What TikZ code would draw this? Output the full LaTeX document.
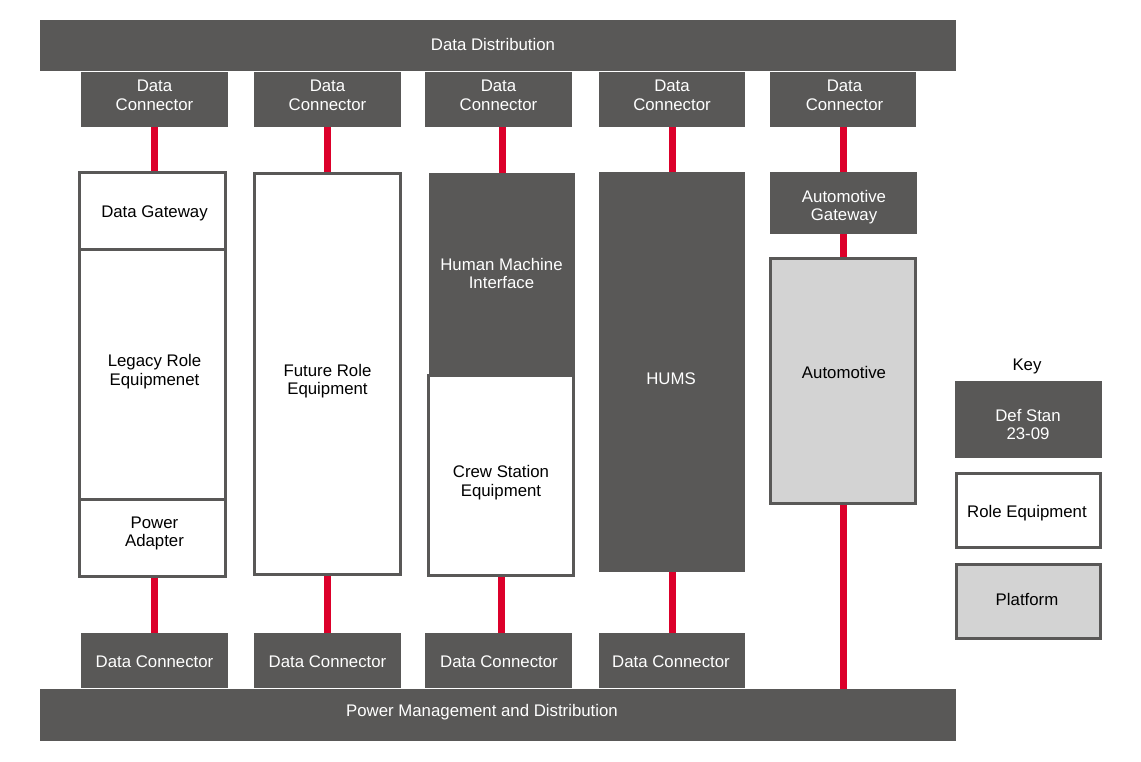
\documentclass[tikz,border=0pt]{standalone}
\usepackage{fontspec}
\setmainfont{Liberation Sans}
\usetikzlibrary{backgrounds}
\definecolor{dg}{RGB}{89,88,87}
\definecolor{lg}{RGB}{211,211,211}
\definecolor{rl}{RGB}{220,0,42}
\tikzset{
  base/.style={inner sep=0pt, outer sep=0pt, align=center, font=\fontsize{16.8}{18.5}\selectfont},
  dark/.style={base, fill=dg, draw=none},
  wbox/.style={base, fill=white, draw=dg, line width=3pt},
  lbox/.style={base, fill=lg, draw=dg, line width=3pt},
  wt/.style={base, text=white},
  bt/.style={base, text=black},
  redline/.style={draw=rl, line width=7pt},
  sz/.style 2 args={minimum width=#1pt, minimum height=#2pt}
}
\begin{document}
\begin{tikzpicture}[x=1pt,y=-1pt]
\useasboundingbox (0,0) rectangle (1141,761);
% buses
\node[dark, sz={916}{51}] (dd) at (498,45.5) {};
\node[wt] (ddt) at (493,44.5) {Data Distribution};
\node[dark, sz={916}{52}] (pwr) at (498,715) {};
\node[wt] (pwrt) at (482,712) {Power Management and Distribution};
% top data connectors
\node[dark, sz={147}{55}] (dc1) at (154.5,99.5) {};
\node[dark, sz={147}{55}] (dc2) at (327.5,99.5) {};
\node[dark, sz={147}{55}] (dc3) at (498.5,99.5) {};
\node[dark, sz={146}{55}] (dc4) at (672,99.5) {};
\node[dark, sz={146}{55}] (dc5) at (843,99.5) {};
\foreach \n/\x in {1/154.5,2/327.5,3/498.5,4/672,5/844.5}
  \node[wt] (dct\n) at (\x,95.5) {Data\\Connector};
% bottom data connectors
\node[dark, sz={147}{55}] (bc1) at (154.5,660.5) {};
\node[dark, sz={147}{55}] (bc2) at (327.5,660.5) {};
\node[dark, sz={147}{55}] (bc3) at (498.5,660.5) {};
\node[dark, sz={146}{55}] (bc4) at (672,660.5) {};
\foreach \n/\x in {1/154.5,2/327.5,3/499,4/671}
  \node[wt] (bct\n) at (\x,661.5) {Data Connector};
% column 1
\node[wbox, sz={146}{77}] (gw1) at (152.5,210.5) {};
\node[wbox, sz={146}{250}] (leg1) at (152.5,374) {};
\node[wbox, sz={146}{77}] (pa1) at (152.5,537.5) {};
\node[bt] (gw1t) at (154.5,213.5) {Data Gateway};
\node[bt] (leg1t) at (154.5,371.5) {Legacy Role\\Equipmenet};
\node[bt] (pa1t) at (154.5,533.5) {Power\\Adapter};
% column 2
\node[wbox, sz={146}{401}] (fut) at (327.5,374) {};
\node[bt] (futt) at (327.5,381) {Future Role\\Equipment};
% column 3
\node[dark, sz={146}{202}] (hmi) at (502,274) {};
\node[wt] (hmit) at (501.5,273.5) {Human Machine\\Interface};
\node[wbox, sz={145}{200}] (crew) at (501,475.5) {};
\node[bt] (crewt) at (501,482.5) {Crew Station\\Equipment};
% column 4
\node[dark, sz={146}{400}] (hums) at (672,372) {};
\node[wt] (humst) at (671,379) {HUMS};
% column 5
\node[dark, sz={147}{62}] (ag) at (843.5,203) {};
\node[wt] (agt) at (844,207) {Automotive\\Gateway};
\node[lbox, sz={145}{245}] (auto) at (843,381) {};
\node[bt] (autot) at (844,372) {Automotive};
% key
\node[bt] (key) at (1027,366) {Key};
\node[dark, sz={147}{77}] (k1) at (1028.5,419.5) {};
\node[wt] (k1t) at (1028,424.5) {Def Stan\\23-09};
\node[wbox, sz={144}{74}] (k2) at (1028.5,510.5) {};
\node[bt] (k2t) at (1027,513) {Role Equipment};
\node[lbox, sz={144}{74}] (k3) at (1028.5,601.5) {};
\node[bt] (k3t) at (1027,599.5) {Platform};
% red links
\begin{scope}[on background layer]
\draw[redline] (dc1.south) -- (dc1.south |- gw1.north);
\draw[redline] (pa1.south -| bc1.north) -- (bc1.north);
\draw[redline] (dc2.south) -- (fut.north);
\draw[redline] (fut.south) -- (bc2.north);
\draw[redline] (dc3.south -| hmi.north) -- (hmi.north);
\draw[redline] (crew.south) -- (crew.south |- bc3.north);
\draw[redline] (dc4.south) -- (hums.north);
\draw[redline] (hums.south) -- (bc4.north);
\draw[redline] (dc5.south) -- (dc5.south |- pwr.north);
\end{scope}
\end{tikzpicture}
\end{document}
